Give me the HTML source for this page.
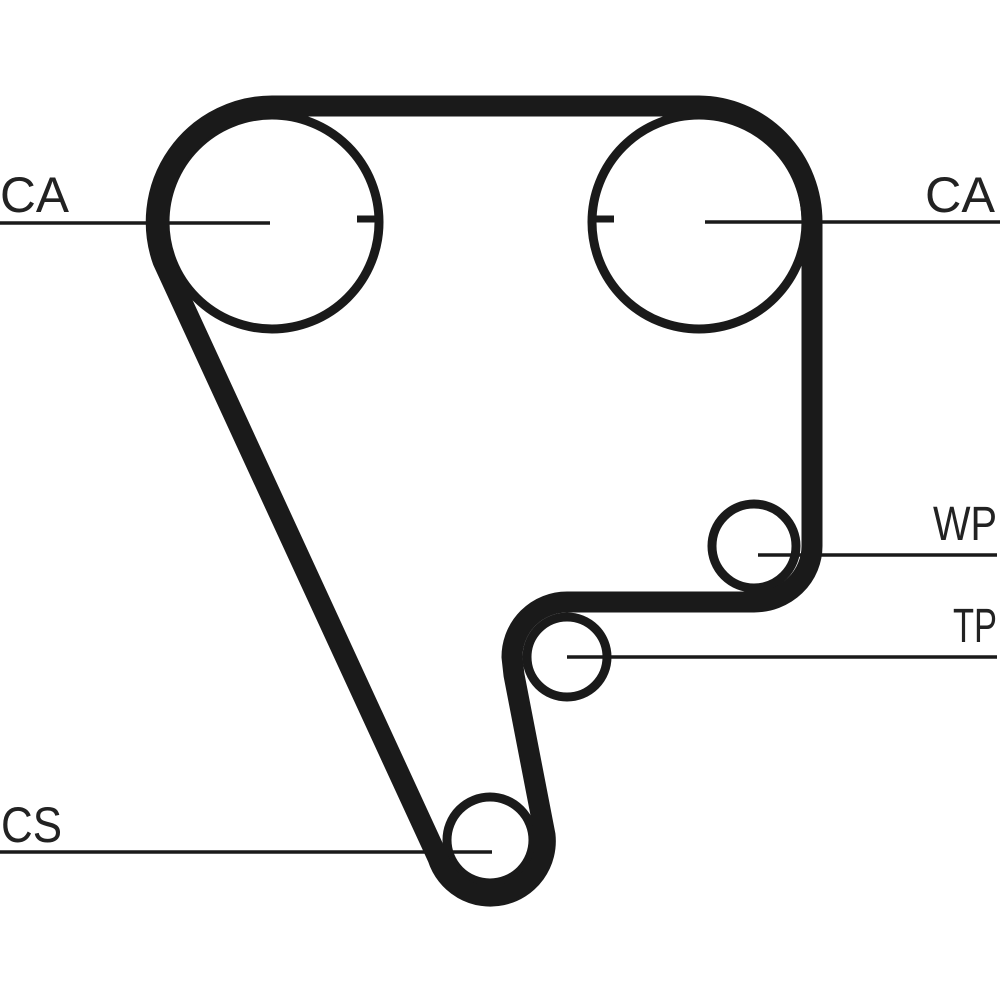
<!DOCTYPE html>
<html><head><style>html,body{margin:0;padding:0;background:#fff}svg{display:block}</style></head>
<body>
<svg width="1000" height="1000" viewBox="0 0 1000 1000" xmlns="http://www.w3.org/2000/svg">
<g fill="none" stroke="#1a1a1a">
<circle cx="272" cy="222" r="107" stroke-width="9"/>
<circle cx="699" cy="222" r="107" stroke-width="9"/>
<circle cx="754" cy="546" r="42" stroke-width="9"/>
<circle cx="567" cy="657" r="40" stroke-width="9"/>
<circle cx="490" cy="840" r="43" stroke-width="9"/>
<path d="M272 106 L699 106 A114 116 0 0 1 812 222 L812 546 A58 56 0 0 1 754 602 L567 602 A55 55 0 0 0 512 657 L514 675 L545 835 A55 55 0 0 1 438 858 L163 261 A116 116 0 0 1 272 106 Z" stroke-width="21" stroke-linejoin="round"/>
<g stroke-width="3.5">
<line x1="0" y1="223" x2="270" y2="223"/>
<line x1="705" y1="222" x2="1000" y2="222"/>
<line x1="758" y1="555" x2="997" y2="555"/>
<line x1="567" y1="657" x2="997" y2="657"/>
<line x1="0" y1="852" x2="492" y2="852"/>
</g>
<line x1="357" y1="219" x2="378" y2="219" stroke-width="7"/>
<line x1="593" y1="219" x2="614" y2="219" stroke-width="7"/>
</g>
<g font-family="Liberation Sans, sans-serif" font-size="50" fill="#222">
<text x="0" y="212" textLength="69" lengthAdjust="spacingAndGlyphs">CA</text>
<text x="925" y="212" textLength="70" lengthAdjust="spacingAndGlyphs">CA</text>
<text x="933" y="540" textLength="64" lengthAdjust="spacingAndGlyphs" font-size="48">WP</text>
<text x="953" y="642" textLength="44" lengthAdjust="spacingAndGlyphs" font-size="48">TP</text>
<text x="1" y="842" textLength="61" lengthAdjust="spacingAndGlyphs">CS</text>
</g>
</svg>
</body></html>
